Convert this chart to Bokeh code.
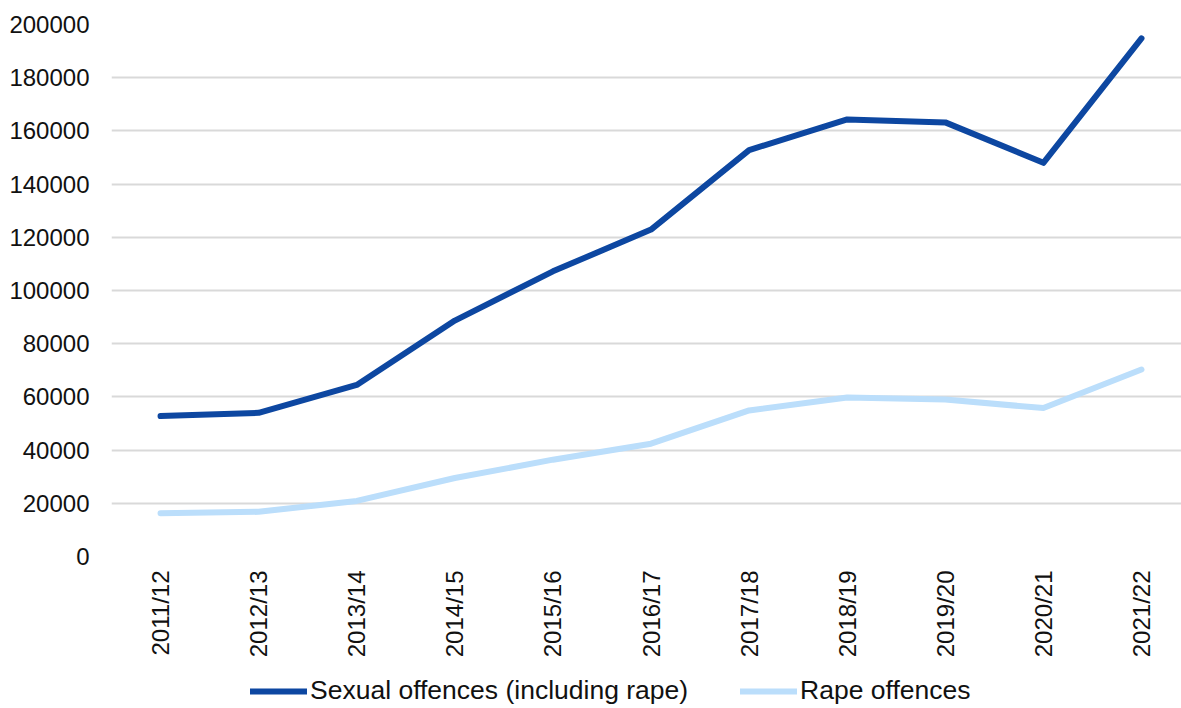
import math
from bokeh.plotting import figure
from bokeh.layouts import column
from bokeh.models import Range1d, FixedTicker, Legend, LegendItem, ColumnDataSource
from bokeh.embed import file_html
from bokeh.resources import INLINE

years = ["2011/12", "2012/13", "2013/14", "2014/15", "2015/16", "2016/17",
         "2017/18", "2018/19", "2019/20", "2020/21", "2021/22"]
sexual_offences = [52800, 54000, 64500, 88700, 107200, 122900, 152800, 164300, 163200, 148000, 194800]
rape_offences = [16300, 16800, 20900, 29500, 36400, 42400, 54900, 59800, 59000, 55800, 70300]
y_ticks = [0, 20000, 40000, 60000, 80000, 100000, 120000, 140000, 160000, 180000, 200000]
series_names = ["Sexual offences (including rape)", "Rape offences"]
series_colors = ["#0D47A1", "#BBDEFB"]

xpos = [i + 0.5 for i in range(len(years))]
src = ColumnDataSource(dict(x=xpos, s=sexual_offences, r=rape_offences))

FONT = "Liberation Sans"

p = figure(width=1181, height=674, output_backend="svg", toolbar_location=None,
           x_range=Range1d(0, 10.908), y_range=Range1d(0, 200000),
           min_border_left=111, min_border_right=0, min_border_top=24, min_border_bottom=118)
p.outline_line_color = None
p.background_fill_color = "white"

r1 = p.line("x", "s", source=src, line_color=series_colors[0], line_width=6, line_cap="round", line_join="round")
r2 = p.line("x", "r", source=src, line_color=series_colors[1], line_width=6, line_cap="round", line_join="round")

p.xgrid.visible = False
p.ygrid.ticker = FixedTicker(ticks=y_ticks)
p.ygrid.grid_line_color = "#D9D9D9"
p.ygrid.grid_line_width = 2

for ax in (p.xaxis, p.yaxis):
    ax.axis_line_color = None
    ax.major_tick_line_color = None
    ax.minor_tick_line_color = None
    ax.major_tick_out = 0
    ax.major_tick_in = 0
    ax.minor_tick_out = 0
    ax.minor_tick_in = 0
    ax.major_label_text_font = FONT
    ax.major_label_text_font_size = "24px"
    ax.major_label_text_color = "#111111"

p.yaxis.ticker = FixedTicker(ticks=y_ticks)
p.yaxis.major_label_overrides = {t: str(t) for t in y_ticks}
p.yaxis.major_label_standoff = 22

p.xaxis.ticker = FixedTicker(ticks=xpos)
p.xaxis.major_label_overrides = {x: y for x, y in zip(xpos, years)}
p.xaxis.major_label_orientation = math.pi / 2
p.xaxis.major_label_standoff = 14

# legend strip below the chart (frame aligned with main chart's frame)
lf = figure(width=1181, height=34, output_backend="svg", toolbar_location=None,
            x_range=Range1d(0, 1), y_range=Range1d(0, 1), x_axis_type=None, y_axis_type=None,
            min_border_left=0, min_border_right=0, min_border_top=0, min_border_bottom=0)
lf.outline_line_color = None
lf.xgrid.visible = False
lf.ygrid.visible = False
d1 = lf.line(x=[-10, -9], y=[-10, -10], line_color=series_colors[0], line_width=6, line_cap="round")
d2 = lf.line(x=[-10, -9], y=[-10, -10], line_color=series_colors[1], line_width=6, line_cap="round")

legend = Legend(items=[LegendItem(label=series_names[0], renderers=[d1]),
                       LegendItem(label=series_names[1], renderers=[d2])],
                orientation="horizontal", location=(139, 2),
                label_text_font=FONT, label_text_font_size="26.5px", label_text_color="#111111",
                glyph_width=57, glyph_height=28, label_standoff=3, spacing=52, label_height=28,
                padding=0, margin=0, border_line_color=None, background_fill_alpha=0)
lf.add_layout(legend, "center")

layout = column(p, lf, spacing=0)
open("out.html", "w").write(file_html(layout, INLINE))
